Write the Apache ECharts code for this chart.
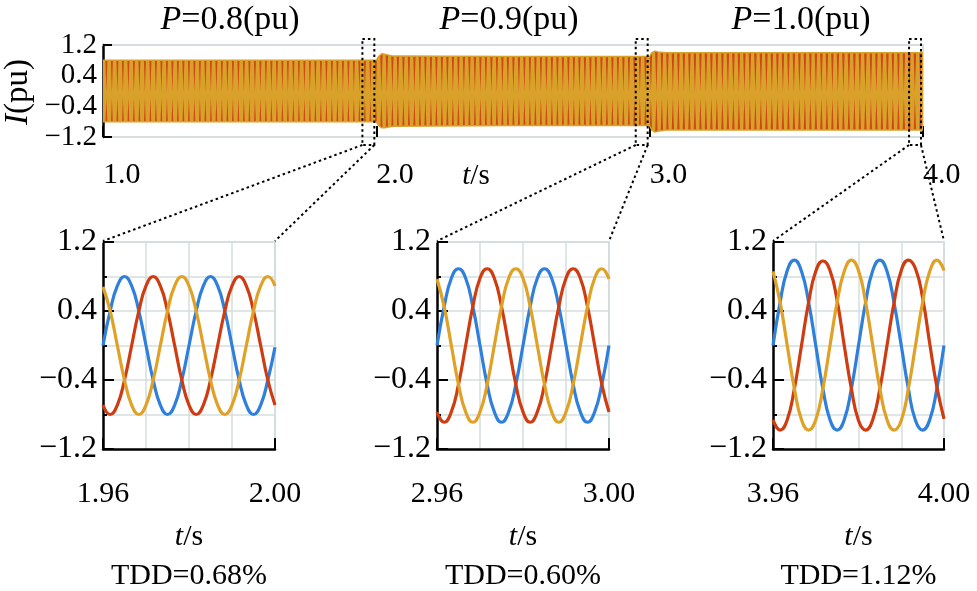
<!DOCTYPE html>
<html><head><meta charset="utf-8">
<script src="https://cdn.jsdelivr.net/npm/echarts@6/dist/echarts.min.js"></script>
<style>html,body{margin:0;padding:0;background:#fff}#c{width:977px;height:591px}</style>
</head><body><div id="c"></div>
<script>
// ---------------- data ----------------
const powerLevels = ['0.8', '0.9', '1.0'];
const tddLabels = ['TDD=0.68%', 'TDD=0.60%', 'TDD=1.12%'];
const topTickValues = [1, 2, 3, 4];
const yTickLabels = [-1.2, -0.4, 0.4, 1.2];

// top panel: envelope of the three-phase currents (peaks)
const topT     = [1.0, 2.0, 2.008, 2.02, 2.03, 2.06, 2.5, 3.0, 3.008, 3.02, 3.03, 3.06, 4.0];
const topUpper = [0.80, 0.80, 0.90, 0.97, 0.96, 0.91, 0.90, 0.90, 1.00, 1.04, 1.02, 1.00, 1.00];
const topLower = [-0.80, -0.80, -0.90, -0.96, -0.96, -0.92, -0.90, -0.90, -1.02, -1.07, -1.05, -1.02, -1.02];

// zoom windows
const zoomStarts = [1.96, 2.96, 3.96];
const sampleMs = [0, 1.667, 3.333, 5, 6.667, 8.333, 10, 11.667, 13.333, 15, 16.667, 18.333, 20,
                  21.667, 23.333, 25, 26.667, 28.333, 30, 31.667, 33.333, 35, 36.667, 38.333, 40];

const ia1 = [0, 0.40, 0.69, 0.80, 0.69, 0.40, 0, -0.40, -0.69, -0.80, -0.69, -0.40, 0, 0.40, 0.69, 0.80, 0.69, 0.40, 0, -0.40, -0.69, -0.80, -0.69, -0.40, -0.02];
const ib1 = [-0.69, -0.80, -0.69, -0.40, 0, 0.40, 0.69, 0.80, 0.69, 0.40, 0, -0.40, -0.69, -0.80, -0.69, -0.40, 0, 0.40, 0.69, 0.80, 0.69, 0.40, 0, -0.40, -0.69];
const ic1 = [0.68, 0.40, 0, -0.40, -0.69, -0.80, -0.69, -0.40, 0, 0.40, 0.69, 0.80, 0.69, 0.40, 0, -0.40, -0.69, -0.80, -0.69, -0.40, 0, 0.40, 0.69, 0.80, 0.69];

const ia2 = [0, 0.45, 0.78, 0.89, 0.78, 0.45, 0, -0.45, -0.77, -0.89, -0.77, -0.45, 0, 0.45, 0.78, 0.89, 0.78, 0.45, 0, -0.45, -0.77, -0.89, -0.77, -0.45, 0];
const ib2 = [-0.77, -0.89, -0.77, -0.45, 0, 0.45, 0.78, 0.89, 0.78, 0.45, 0, -0.45, -0.77, -0.89, -0.77, -0.45, 0, 0.45, 0.78, 0.89, 0.78, 0.45, 0, -0.45, -0.77];
const ic2 = [0.77, 0.45, 0, -0.45, -0.77, -0.89, -0.77, -0.45, 0, 0.45, 0.78, 0.89, 0.78, 0.45, 0, -0.45, -0.77, -0.89, -0.77, -0.45, 0, 0.45, 0.78, 0.89, 0.77];

const ia3 = [0, 0.50, 0.87, 0.99, 0.86, 0.50, 0, -0.50, -0.86, -0.98, -0.86, -0.50, 0, 0.50, 0.87, 0.99, 0.86, 0.49, 0, -0.50, -0.87, -0.98, -0.86, -0.50, 0];
const ib3 = [-0.86, -0.98, -0.86, -0.50, 0, 0.50, 0.86, 0.98, 0.87, 0.52, 0, -0.50, -0.87, -0.98, -0.86, -0.50, 0, 0.50, 0.87, 0.99, 0.89, 0.55, 0.02, -0.48, -0.85];
const ic3 = [0.86, 0.50, 0, -0.50, -0.86, -0.98, -0.86, -0.50, 0, 0.50, 0.86, 0.99, 0.87, 0.50, 0, -0.50, -0.86, -0.98, -0.87, -0.50, 0, 0.50, 0.86, 0.99, 0.87];

const zoomData = [[ia1, ib1, ic1], [ia2, ib2, ic2], [ia3, ib3, ic3]];

// ---------------- style ----------------
const BLUE = '#2f7fdc', RED = '#cf3c12', YEL = '#dfa126', BAND = '#d9a02a', GRID = '#d5dede';
const FONT = "'Liberation Serif','Times New Roman',serif";
const minus = s => String(s).replace('-', '\u2212');

const grids = [
  {left: 103, top: 45, width: 820, height: 92},
  {left: 103, top: 242, width: 172, height: 207},
  {left: 437, top: 242, width: 172, height: 207},
  {left: 773, top: 242, width: 171, height: 207}
];

function stripeCanvas() {
  const c = document.createElement('canvas');
  c.width = 11; c.height = 160;
  const g = c.getContext('2d');
  g.fillStyle = BAND; g.fillRect(0, 0, 11, 160);
  g.fillStyle = 'rgba(205,62,22,0.9)';
  [0.5, 6].forEach(x0 => {
    g.beginPath(); g.moveTo(x0, 48); g.lineTo(x0 + 2.8, 48); g.lineTo(x0 + 1.4, 92); g.closePath(); g.fill();
    g.beginPath(); g.moveTo(x0, 136); g.lineTo(x0 + 2.8, 136); g.lineTo(x0 + 1.4, 98); g.closePath(); g.fill();
  });
  return c;
}
const pattern = {image: stripeCanvas(), repeat: 'repeat'};

const xAxis = [], yAxis = [], series = [];
// top grid axes
xAxis.push({gridIndex: 0, type: 'value', position: 'bottom', min: 1, max: 4, interval: 1,
  axisLine: {onZero: false, lineStyle: {color: GRID, width: 2}},
  axisTick: {show: true, inside: true, length: 11, lineStyle: {color: '#000', width: 2}},
  axisLabel: {align: 'left', margin: 23, fontSize: 30, fontFamily: FONT, color: '#000', formatter: v => v.toFixed(1)},
  splitLine: {show: false}});
xAxis.push({gridIndex: 0, type: 'value', position: 'top', min: 1, max: 4, interval: 1,
  axisLine: {onZero: false, lineStyle: {color: GRID, width: 2}}, axisTick: {show: false}, axisLabel: {show: false}, splitLine: {show: false}});
yAxis.push({gridIndex: 0, type: 'value', position: 'left', min: -1.2, max: 1.2, interval: 0.4,
  axisLine: {onZero: false, lineStyle: {color: '#000', width: 2.5}},
  axisTick: {inside: true, length: 9, customValues: [-1.2, 1.2], lineStyle: {color: '#000', width: 2}},
  axisLabel: {customValues: yTickLabels, margin: 6, fontSize: 29, fontFamily: FONT, color: '#000', formatter: v => minus(v.toFixed(1))},
  splitLine: {show: false}});
yAxis.push({gridIndex: 0, type: 'value', position: 'right', min: -1.2, max: 1.2, interval: 0.4,
  axisLine: {onZero: false, lineStyle: {color: GRID, width: 2}}, axisTick: {show: false}, axisLabel: {show: false}, splitLine: {show: false}});

series.push({type: 'line', xAxisIndex: 0, yAxisIndex: 0, symbol: 'none', silent: true,
  data: topT.map((t, i) => [t, topUpper[i]]), lineStyle: {color: BAND, width: 1.5},
  areaStyle: {origin: 0, color: pattern, opacity: 1}});
series.push({type: 'line', xAxisIndex: 0, yAxisIndex: 0, symbol: 'none', silent: true,
  data: topT.map((t, i) => [t, topLower[i]]), lineStyle: {color: BAND, width: 1.5},
  areaStyle: {origin: 0, color: pattern, opacity: 1}});

// zoom grids
zoomStarts.forEach((s, i) => {
  const gi = i + 1, e = +(s + 0.04).toFixed(2);
  xAxis.push({gridIndex: gi, type: 'value', position: 'bottom', min: s, max: e, interval: 0.01,
    axisLine: {onZero: false, lineStyle: {color: '#000', width: 2.5}},
    axisTick: {inside: true, length: 11, customValues: [s, e], lineStyle: {color: '#000', width: 2}},
    axisLabel: {customValues: [s, e], margin: 30, fontSize: 30, fontFamily: FONT, color: '#000', formatter: v => v.toFixed(2)},
    splitLine: {show: false}});
  xAxis.push({gridIndex: gi, type: 'value', position: 'top', min: s, max: e, interval: 0.01,
    axisLine: {onZero: false, lineStyle: {color: GRID, width: 2}}, axisTick: {show: false}, axisLabel: {show: false},
    splitLine: {show: true, showMinLine: false, lineStyle: {color: GRID, width: 1.5}}});
  yAxis.push({gridIndex: gi, type: 'value', position: 'left', min: -1.2, max: 1.2, interval: 0.4,
    axisLine: {onZero: false, lineStyle: {color: '#000', width: 2.5}},
    axisTick: {inside: true, length: 11, customValues: yTickLabels, lineStyle: {color: '#000', width: 2}},
    axisLabel: {customValues: yTickLabels, margin: 6, fontSize: 32, fontFamily: FONT, color: '#000', formatter: v => minus(v.toFixed(1))},
    splitLine: {show: false}});
  yAxis.push({gridIndex: gi, type: 'value', position: 'right', min: -1.2, max: 1.2, interval: 0.4,
    axisLine: {onZero: false, lineStyle: {color: GRID, width: 2}}, axisTick: {show: false}, axisLabel: {show: false},
    splitLine: {show: true, showMinLine: false, lineStyle: {color: GRID, width: 1.5}}});
  yAxis.push({gridIndex: gi, type: 'value', position: 'left', min: -1.2, max: 1.2, interval: 0.4,
    axisLine: {show: false}, axisTick: {inside: true, length: 4, lineStyle: {color: '#000', width: 2}},
    axisLabel: {show: false}, splitLine: {show: false}});
  const xs = sampleMs.map(ms => s + ms / 1000);
  [BLUE, RED, YEL].forEach((col, k) => {
    series.push({type: 'line', xAxisIndex: 2 + 2 * i, yAxisIndex: 2 + 3 * i, symbol: 'none', smooth: 0.5, silent: true,
      data: xs.map((x, j) => [x, zoomData[i][k][j]]), lineStyle: {color: col, width: 3.2}});
  });
});

const chart = echarts.init(document.getElementById('c'));
chart.setOption({animation: false, grid: grids, xAxis, yAxis, series});

// ---------------- texts & zoom guides ----------------
const rich = sz => ({i: {fontStyle: 'italic', fontFamily: FONT, fontSize: sz, fill: '#000'}});
const txt = (x, y, text, sz, extra) => Object.assign({type: 'text', x, y, silent: true,
  style: {text, fontFamily: FONT, fontSize: sz, fill: '#000', align: 'center', verticalAlign: 'middle', rich: rich(sz)}}, extra || {});

const graphic = [];
const titleX = [230, 509, 801];
powerLevels.forEach((p, i) => graphic.push(txt(titleX[i], 20, '{i|P}=' + p + '(pu)', 34)));
graphic.push(txt(18, 92, '{i|I}(pu)', 33, {rotation: Math.PI / 2}));
graphic.push(txt(476, 176, '{i|t}/s', 29));

const px = (gi, pt) => chart.convertToPixel({gridIndex: gi}, pt);
zoomStarts.forEach((s, i) => {
  const e = s + 0.04;
  const bl = px(0, [s, 0])[0] - 3, br = px(0, [e, 0])[0] - 2;
  const bt = 39, bb = 145;
  const tl = px(i + 1, [s, 1.2]), tr = px(i + 1, [e, 1.2]);
  const dash = {stroke: '#000', lineWidth: 2, lineDash: [2.5, 3], fill: null};
  graphic.push({type: 'rect', silent: true, shape: {x: bl, y: bt, width: br - bl, height: bb - bt}, style: Object.assign({}, dash), z: 100});
  graphic.push({type: 'polyline', silent: true, shape: {points: [[bl, bb], [tl[0], tl[1] - 1]]}, style: Object.assign({}, dash), z: 100});
  graphic.push({type: 'polyline', silent: true, shape: {points: [[br, bb], [tr[0], tr[1] - 1]]}, style: Object.assign({}, dash), z: 100});
  const cx = (tl[0] + tr[0]) / 2;
  graphic.push(txt(cx, 537, '{i|t}/s', 30));
  graphic.push(txt(cx, 576, tddLabels[i], 30));
});
chart.setOption({graphic});
</script></body></html>
